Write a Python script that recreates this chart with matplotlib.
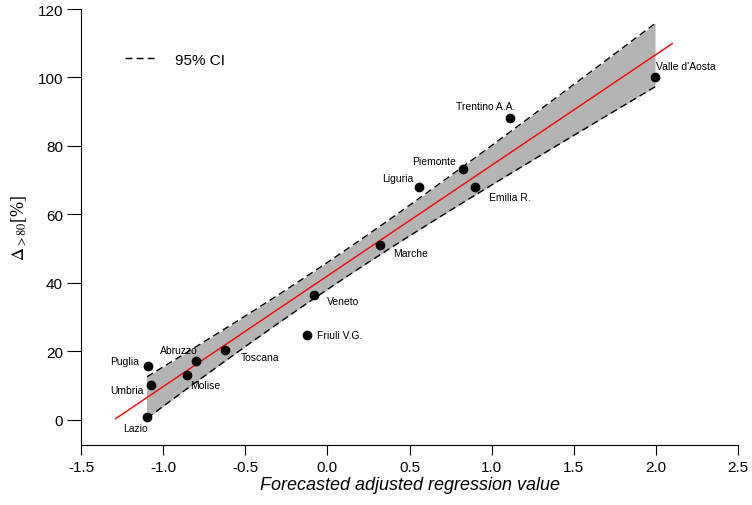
import numpy as np
import matplotlib
matplotlib.use("Agg")
import matplotlib.pyplot as plt

regions = ["Lazio", "Umbria", "Puglia", "Molise", "Abruzzo", "Toscana", "Friuli V.G.",
           "Veneto", "Marche", "Liguria", "Piemonte", "Emilia R.", "Trentino A.A.", "Valle d'Aosta"]
x_vals = [-1.098, -1.074, -1.092, -0.855, -0.800, -0.623, -0.124,
          -0.081, 0.320, 0.558, 0.826, 0.899, 1.112, 1.995]
y_vals = [0.9, 10.2, 15.8, 13.1, 17.2, 20.4, 24.8,
          36.5, 51.1, 68.0, 73.3, 68.0, 88.2, 100.1]
# label offsets in pixels (dx, dy)
label_dx = [-12, -24, -23, 18, -17, 35, 33, 29, 31, -21, -29, 35, -24, 31]
label_dy = [-11, -5, 5, -10, 11, -7, 0, -6, -8, 9, 8, -10, 12, 11]
fit_range = [-1.29, 2.10]
xticks = [-1.5, -1.0, -0.5, 0.0, 0.5, 1.0, 1.5, 2.0, 2.5]
yticks = [0, 20, 40, 60, 80, 100, 120]

plt.rcParams['font.family'] = ['Liberation Sans', 'DejaVu Sans']
plt.rcParams['mathtext.fontset'] = 'stix'

fig = plt.figure(figsize=(7.52, 5.06), dpi=100)
ax = fig.add_axes([81/752, 1-446/506, (738-81)/752, (446-10)/506])

x = np.array(x_vals)
y = np.array(y_vals)
n = len(x)
b, a = np.polyfit(x, y, 1)
resid = y - (a + b*x)
s = np.sqrt(np.sum(resid**2)/(n-2))
sxx = np.sum((x - x.mean())**2)
tval = 2.179  # t(0.975, n-2=12)
xb = np.linspace(x.min(), x.max(), 200)
yb = a + b*xb
half = tval*s*np.sqrt(1/n + (xb - x.mean())**2/sxx)

ax.fill_between(xb, yb-half, yb+half, color='#b4b4b4', lw=0, zorder=1)
ax.plot(xb, yb+half, color='black', ls=(0, (5, 3)), lw=1.0, zorder=2, label='95% CI')
ax.plot(xb, yb-half, color='black', ls=(0, (5, 3)), lw=1.0, zorder=2)
ax.plot([x.min(), x.min()], [yb[0]-half[0], yb[0]+half[0]], color='#b4b4b4', lw=0.8, zorder=1)
xf = np.array(fit_range)
ax.plot(xf, a + b*xf, color='red', lw=1.0, zorder=3)
ax.plot(x, y, 'o', color='black', ms=6, zorder=4)

for name, xi, yi, dx, dy in zip(regions, x_vals, y_vals, label_dx, label_dy):
    ax.annotate(name, (xi, yi), xytext=(dx, dy), textcoords='offset pixels',
                ha='center', va='center', fontsize=7.5)

ax.set_xlim(-1.5, 2.5)
ax.set_ylim(-7.3, 120)
ax.set_xticks(xticks)
ax.set_xticklabels([f"{t:.1f}" for t in xticks])
ax.set_yticks(yticks)
for sp in ['top', 'right']:
    ax.spines[sp].set_visible(False)
ax.tick_params(axis='x', length=7.5, width=0.8, labelsize=11, direction='out', pad=3)
ax.tick_params(axis='y', length=10, width=0.8, labelsize=11, direction='out', pad=3)
for sp in ['left', 'bottom']:
    ax.spines[sp].set_linewidth(0.8)

ax.set_xlabel('Forecasted adjusted regression value', fontsize=13, style='italic', labelpad=2)
ax.set_ylabel(r'$\Delta_{>80}$[%]', fontsize=13, family='Liberation Serif', labelpad=6)

ax.legend(loc='upper left', bbox_to_anchor=(0.046, 0.931), frameon=False, fontsize=11,
          handlelength=2.1, handletextpad=1.2)

fig.savefig('out.png', dpi=100)
